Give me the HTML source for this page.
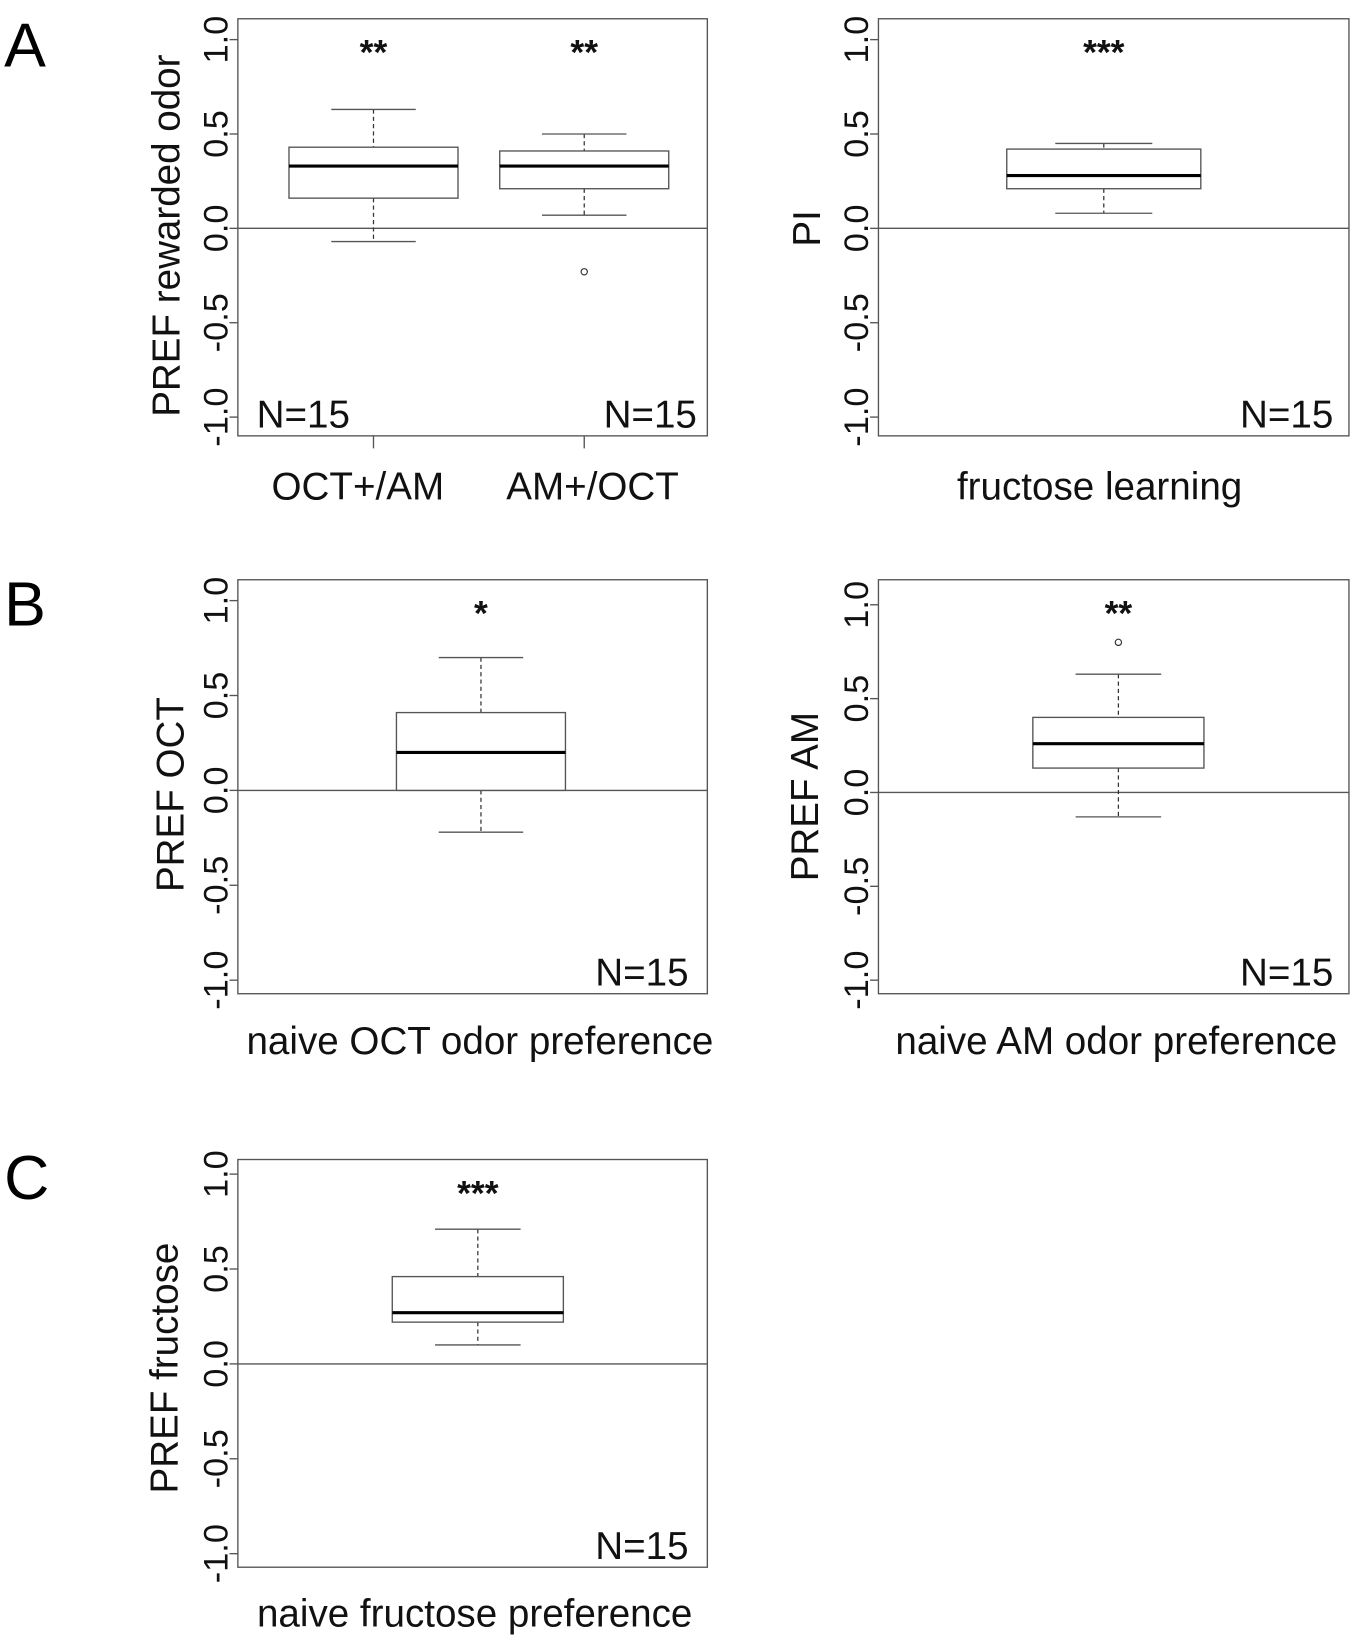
<!DOCTYPE html>
<html><head><meta charset="utf-8"><style>
html,body{margin:0;padding:0;background:#fff;}
svg{display:block;font-family:"Liberation Sans",Arial,sans-serif;}
</style></head><body>
<svg id="fig" width="1350" height="1635" viewBox="0 0 1294 1568" preserveAspectRatio="none" xmlns="http://www.w3.org/2000/svg">
<rect width="1294" height="1568" fill="#fff"/>
<text x="4" y="64" font-size="60">A</text>
<text x="4" y="600" font-size="60">B</text>
<text x="4" y="1150" font-size="60">C</text>
</svg>
<script>
// ---- data ----
const panelNames = ["a-left","a-right","b-left","b-right","c"];
const yTickValues = [-1.0,-0.5,0.0,0.5,1.0];
const yTickLabels = ["-1.0","-0.5","0.0","0.5","1.0"];
const groupsA1 = ["OCT+/AM","AM+/OCT"];
const whiskerHiA1 = [0.63,0.50];
const q3A1 = [0.43,0.41];
const medianA1 = [0.33,0.33];
const q1A1 = [0.16,0.21];
const whiskerLoA1 = [-0.07,0.07];
const outliersA1 = [[],[-0.23]];
const starsA1 = ["**","**"];
const groupsA2 = ["fructose learning"];
const whiskerHiA2 = [0.45];
const q3A2 = [0.42];
const medianA2 = [0.28];
const q1A2 = [0.21];
const whiskerLoA2 = [0.08];
const outliersA2 = [[]];
const starsA2 = ["***"];
const groupsB1 = ["naive OCT odor preference"];
const whiskerHiB1 = [0.70];
const q3B1 = [0.41];
const medianB1 = [0.20];
const q1B1 = [0.0];
const whiskerLoB1 = [-0.22];
const outliersB1 = [[]];
const starsB1 = ["*"];
const groupsB2 = ["naive AM odor preference"];
const whiskerHiB2 = [0.63];
const q3B2 = [0.40];
const medianB2 = [0.26];
const q1B2 = [0.13];
const whiskerLoB2 = [-0.13];
const outliersB2 = [[0.80]];
const starsB2 = ["**"];
const groupsC = ["naive fructose preference"];
const whiskerHiC = [0.71];
const q3C = [0.46];
const medianC = [0.27];
const q1C = [0.22];
const whiskerLoC = [0.10];
const outliersC = [[]];
const starsC = ["***"];

const NS="http://www.w3.org/2000/svg";
const svg=document.getElementById('fig');
function mk(tag,attrs,parent){const e=document.createElementNS(NS,tag);for(const k in attrs)e.setAttribute(k,attrs[k]);(parent||svg).appendChild(e);return e;}

function panel(cfg){
  const g=mk('g',{});
  
  
  const y=v=>cfg.y0+(cfg.ym1-cfg.y0)*(-v);
  const frame=mk('rect',{x:cfg.L,y:cfg.T,width:cfg.R-cfg.L,height:cfg.B-cfg.T,fill:'none',stroke:'#555','stroke-width':1.3},g);
  
  
  const zl=mk('line',{x1:cfg.L,x2:cfg.R,y1:y(0),y2:y(0),stroke:'#555','stroke-width':1.3},g);
  
  
  yTickValues.forEach((v,i)=>{
    const t=mk('line',{x1:cfg.L-8,x2:cfg.L,y1:y(v),y2:y(v),stroke:'#555','stroke-width':1.3},g);
    
    
    const tx=mk('text',{x:0,y:0,'font-size':33,'text-anchor':'middle',fill:'#111',transform:`translate(${cfg.L-10},${y(v)}) rotate(-90)`},g);
    tx.textContent=yTickLabels[i];
    
    
  });
  const yl=mk('text',{x:0,y:0,'font-size':37,'text-anchor':'middle',fill:'#111',transform:`translate(${cfg.ylx},${cfg.yly}) rotate(-90)`},g);
  yl.textContent=cfg.ylabel;
  
  
  cfg.groups.forEach((gname,i)=>{
    const cx=cfg.cx[i], hw=cfg.hw, cw=hw/2;
    const w1=mk('line',{x1:cx,x2:cx,y1:y(cfg.hi[i]),y2:y(cfg.q3[i]),stroke:'#333','stroke-width':1.2,'stroke-dasharray':'4,3'},g);
    
    
    const w2=mk('line',{x1:cx,x2:cx,y1:y(cfg.q1[i]),y2:y(cfg.lo[i]),stroke:'#333','stroke-width':1.2,'stroke-dasharray':'4,3'},g);
    
    
    const c1=mk('line',{x1:cx-cw,x2:cx+cw,y1:y(cfg.hi[i]),y2:y(cfg.hi[i]),stroke:'#555','stroke-width':1.3},g);
    
    
    const c2=mk('line',{x1:cx-cw,x2:cx+cw,y1:y(cfg.lo[i]),y2:y(cfg.lo[i]),stroke:'#555','stroke-width':1.3},g);
    
    
    const bx=mk('rect',{x:cx-hw,y:y(cfg.q3[i]),width:2*hw,height:y(cfg.q1[i])-y(cfg.q3[i]),fill:'#fff',stroke:'#555','stroke-width':1.3},g);
    
    
    const md=mk('line',{x1:cx-hw,x2:cx+hw,y1:y(cfg.med[i]),y2:y(cfg.med[i]),stroke:'#000','stroke-width':3},g);
    
    
    cfg.out[i].forEach(o=>{
      const c=mk('circle',{cx:cx,cy:y(o),r:3,fill:'none',stroke:'#333','stroke-width':1.1},g);
      
      
    });
    const st=mk('text',{x:cx,y:cfg.T+44,'font-size':34,'font-weight':'bold','text-anchor':'middle',fill:'#111'},g);
    st.textContent=cfg.stars[i];
    
    
    if(cfg.xticks){
      const xt=mk('line',{x1:cx,x2:cx,y1:cfg.B,y2:cfg.B+12,stroke:'#555','stroke-width':1.3},g);
      
      
    }
    const xl=mk('text',{x:cfg.xlx?cfg.xlx[i]:cx,y:cfg.xly,'font-size':37,'text-anchor':'middle',fill:'#111'},g);
    xl.textContent=gname;
    
    
  });
  cfg.nlabels.forEach(n=>{
    const t=mk('text',{x:n[0],y:cfg.B-8,'font-size':37,'text-anchor':n[1],fill:'#111'},g);
    t.textContent='N=15';
    
    
  });
}

panel({name:panelNames[0],L:228,R:678,T:18,B:418,y0:219,ym1:400,groups:groupsA1,cx:[358,560],hw:81,
  hi:whiskerHiA1,q3:q3A1,med:medianA1,q1:q1A1,lo:whiskerLoA1,out:outliersA1,stars:starsA1,
  ylabel:'PREF rewarded odor',ylx:172,yly:226,xticks:true,xlx:[343,568],xly:479,nlabels:[[246,'start'],[668,'end']]});
panel({name:panelNames[1],L:842,R:1293,T:18,B:418,y0:219,ym1:400,groups:groupsA2,cx:[1058],hw:93,
  hi:whiskerHiA2,q3:q3A2,med:medianA2,q1:q1A2,lo:whiskerLoA2,out:outliersA2,stars:starsA2,
  ylabel:'PI',ylx:786,yly:219,xticks:false,xlx:[1054],xly:479,nlabels:[[1278,'end']]});
panel({name:panelNames[2],L:228,R:678,T:556,B:953,y0:758,ym1:940,groups:groupsB1,cx:[461],hw:81,
  hi:whiskerHiB1,q3:q3B1,med:medianB1,q1:q1B1,lo:whiskerLoB1,out:outliersB1,stars:starsB1,
  ylabel:'PREF OCT',ylx:176,yly:762,xticks:false,xlx:[460],xly:1011,nlabels:[[660,'end']]});
panel({name:panelNames[3],L:842,R:1293,T:556,B:953,y0:760,ym1:940,groups:groupsB2,cx:[1072],hw:82,
  hi:whiskerHiB2,q3:q3B2,med:medianB2,q1:q1B2,lo:whiskerLoB2,out:outliersB2,stars:starsB2,
  ylabel:'PREF AM',ylx:784,yly:764,xticks:false,xlx:[1070],xly:1011,nlabels:[[1278,'end']]});
panel({name:panelNames[4],L:228,R:678,T:1112,B:1503,y0:1308,ym1:1490,groups:groupsC,cx:[458],hw:82,
  hi:whiskerHiC,q3:q3C,med:medianC,q1:q1C,lo:whiskerLoC,out:outliersC,stars:starsC,
  ylabel:'PREF fructose',ylx:170,yly:1312,xticks:false,xlx:[455],xly:1560,nlabels:[[660,'end']]});
</script>
</body></html>
